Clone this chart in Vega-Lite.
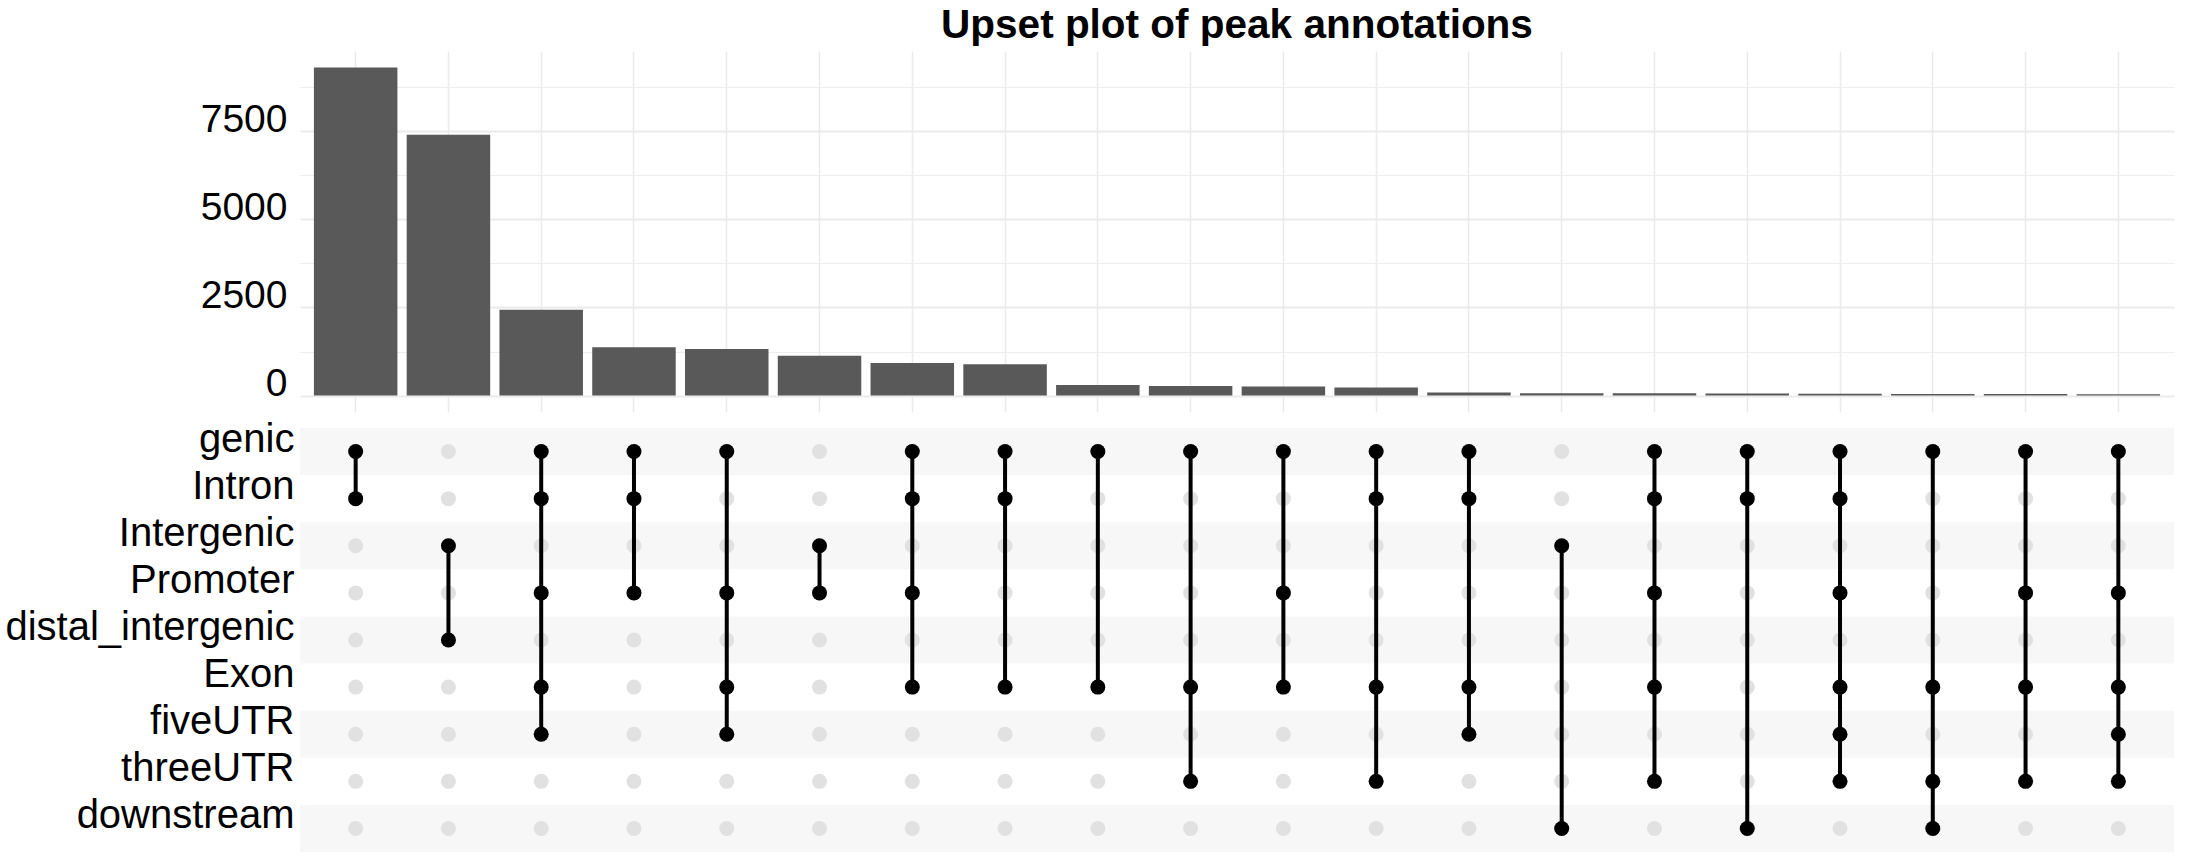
{
  "$schema": "https://vega.github.io/schema/vega-lite/v6.json",
  "background": "white",
  "padding": {"left": 4, "top": 5, "right": 5, "bottom": 5},
  "config": {
    "view": {"stroke": null},
    "font": "Liberation Sans",
    "axis": {"labelFont": "Liberation Sans"},
    "title": {"font": "Liberation Sans"}
  },
  "datasets": {
    "sets": [
      {"c":1,"count":9311,"top":"genic","bottom":"Intron","genic":1,"Intron":1,"Intergenic":0,"Promoter":0,"distal_intergenic":0,"Exon":0,"fiveUTR":0,"threeUTR":0,"downstream":0},
      {"c":2,"count":7400,"top":"Intergenic","bottom":"distal_intergenic","genic":0,"Intron":0,"Intergenic":1,"Promoter":0,"distal_intergenic":1,"Exon":0,"fiveUTR":0,"threeUTR":0,"downstream":0},
      {"c":3,"count":2432,"top":"genic","bottom":"fiveUTR","genic":1,"Intron":1,"Intergenic":0,"Promoter":1,"distal_intergenic":0,"Exon":1,"fiveUTR":1,"threeUTR":0,"downstream":0},
      {"c":4,"count":1370,"top":"genic","bottom":"Promoter","genic":1,"Intron":1,"Intergenic":0,"Promoter":1,"distal_intergenic":0,"Exon":0,"fiveUTR":0,"threeUTR":0,"downstream":0},
      {"c":5,"count":1322,"top":"genic","bottom":"fiveUTR","genic":1,"Intron":0,"Intergenic":0,"Promoter":1,"distal_intergenic":0,"Exon":1,"fiveUTR":1,"threeUTR":0,"downstream":0},
      {"c":6,"count":1132,"top":"Intergenic","bottom":"Promoter","genic":0,"Intron":0,"Intergenic":1,"Promoter":1,"distal_intergenic":0,"Exon":0,"fiveUTR":0,"threeUTR":0,"downstream":0},
      {"c":7,"count":925,"top":"genic","bottom":"Exon","genic":1,"Intron":1,"Intergenic":0,"Promoter":1,"distal_intergenic":0,"Exon":1,"fiveUTR":0,"threeUTR":0,"downstream":0},
      {"c":8,"count":888,"top":"genic","bottom":"Exon","genic":1,"Intron":1,"Intergenic":0,"Promoter":0,"distal_intergenic":0,"Exon":1,"fiveUTR":0,"threeUTR":0,"downstream":0},
      {"c":9,"count":303,"top":"genic","bottom":"Exon","genic":1,"Intron":0,"Intergenic":0,"Promoter":0,"distal_intergenic":0,"Exon":1,"fiveUTR":0,"threeUTR":0,"downstream":0},
      {"c":10,"count":275,"top":"genic","bottom":"threeUTR","genic":1,"Intron":0,"Intergenic":0,"Promoter":0,"distal_intergenic":0,"Exon":1,"fiveUTR":0,"threeUTR":1,"downstream":0},
      {"c":11,"count":255,"top":"genic","bottom":"Exon","genic":1,"Intron":0,"Intergenic":0,"Promoter":1,"distal_intergenic":0,"Exon":1,"fiveUTR":0,"threeUTR":0,"downstream":0},
      {"c":12,"count":226,"top":"genic","bottom":"threeUTR","genic":1,"Intron":1,"Intergenic":0,"Promoter":0,"distal_intergenic":0,"Exon":1,"fiveUTR":0,"threeUTR":1,"downstream":0},
      {"c":13,"count":85,"top":"genic","bottom":"fiveUTR","genic":1,"Intron":1,"Intergenic":0,"Promoter":0,"distal_intergenic":0,"Exon":1,"fiveUTR":1,"threeUTR":0,"downstream":0},
      {"c":14,"count":68,"top":"Intergenic","bottom":"downstream","genic":0,"Intron":0,"Intergenic":1,"Promoter":0,"distal_intergenic":0,"Exon":0,"fiveUTR":0,"threeUTR":0,"downstream":1},
      {"c":15,"count":66,"top":"genic","bottom":"threeUTR","genic":1,"Intron":1,"Intergenic":0,"Promoter":1,"distal_intergenic":0,"Exon":1,"fiveUTR":0,"threeUTR":1,"downstream":0},
      {"c":16,"count":60,"top":"genic","bottom":"downstream","genic":1,"Intron":1,"Intergenic":0,"Promoter":0,"distal_intergenic":0,"Exon":0,"fiveUTR":0,"threeUTR":0,"downstream":1},
      {"c":17,"count":55,"top":"genic","bottom":"threeUTR","genic":1,"Intron":1,"Intergenic":0,"Promoter":1,"distal_intergenic":0,"Exon":1,"fiveUTR":1,"threeUTR":1,"downstream":0},
      {"c":18,"count":48,"top":"genic","bottom":"downstream","genic":1,"Intron":0,"Intergenic":0,"Promoter":0,"distal_intergenic":0,"Exon":1,"fiveUTR":0,"threeUTR":1,"downstream":1},
      {"c":19,"count":43,"top":"genic","bottom":"threeUTR","genic":1,"Intron":0,"Intergenic":0,"Promoter":1,"distal_intergenic":0,"Exon":1,"fiveUTR":0,"threeUTR":1,"downstream":0},
      {"c":20,"count":38,"top":"genic","bottom":"threeUTR","genic":1,"Intron":0,"Intergenic":0,"Promoter":1,"distal_intergenic":0,"Exon":1,"fiveUTR":1,"threeUTR":1,"downstream":0}
    ],
    "shaded": [
      {"set": "genic"},
      {"set": "Intergenic"},
      {"set": "distal_intergenic"},
      {"set": "fiveUTR"},
      {"set": "downstream"}
    ]
  },
  "spacing": 7,
  "vconcat": [
    {
      "title": {"text": "Upset plot of peak annotations", "fontSize": 40.5, "fontWeight": "bold", "anchor": "middle", "frame": "group", "offset": 5, "color": "black"},
      "width": 1874,
      "height": 361,
      "data": {"name": "sets"},
      "mark": {"type": "bar", "color": "#595959"},
      "encoding": {
        "x": {
          "field": "c", "type": "ordinal",
          "scale": {"paddingInner": 0.1, "paddingOuter": 0.15},
          "axis": {"labels": false, "ticks": false, "domain": false, "title": null, "grid": true, "gridColor": "#EBEBEB", "gridWidth": 1.5}
        },
        "y": {
          "field": "count", "type": "quantitative",
          "scale": {"domain": [-466, 9777], "nice": false, "zero": false},
          "axis": {
            "values": [0, 1250, 2500, 3750, 5000, 6250, 7500, 8750],
            "format": "d",
            "labelExpr": "datum.value % 2500 === 0 ? datum.label : ''",
            "title": null, "ticks": false, "domain": false,
            "labelFontSize": 39, "labelPadding": 13, "labelBaseline": "alphabetic", "labelColor": "black",
            "grid": true, "gridColor": "#EBEBEB",
            "gridWidth": {"condition": {"test": "datum.value % 2500 === 0", "value": 1.8}, "value": 0.9}
          }
        }
      }
    },
    {
      "width": 1874,
      "height": 424,
      "layer": [
        {
          "data": {"name": "shaded"},
          "mark": {"type": "rect", "color": "#F7F7F7"},
          "encoding": {
            "y": {
              "field": "set", "type": "nominal",
              "scale": {"domain": ["genic", "Intron", "Intergenic", "Promoter", "distal_intergenic", "Exon", "fiveUTR", "threeUTR", "downstream"], "paddingInner": 0, "paddingOuter": 0},
              "axis": {"title": null, "ticks": false, "domain": false, "grid": false, "labelFontSize": 40, "labelPadding": 6, "labelBaseline": "alphabetic", "labelColor": "black", "labelLimit": 0}
            },
            "x": {"value": 0},
            "x2": {"value": "width"}
          }
        },
        {
          "data": {"name": "sets"},
          "transform": [
            {"fold": ["genic", "Intron", "Intergenic", "Promoter", "distal_intergenic", "Exon", "fiveUTR", "threeUTR", "downstream"], "as": ["set", "member"]}
          ],
          "mark": {"type": "circle", "size": 225, "color": "#E1E1E1", "opacity": 1},
          "encoding": {
            "x": {"field": "c", "type": "ordinal", "scale": {"paddingInner": 0.1, "paddingOuter": 0.15}, "axis": null},
            "y": {"field": "set", "type": "nominal"}
          }
        },
        {
          "data": {"name": "sets"},
          "mark": {"type": "rule", "color": "black", "strokeWidth": 4},
          "encoding": {
            "x": {"field": "c", "type": "ordinal"},
            "y": {"field": "top", "type": "nominal"},
            "y2": {"field": "bottom"}
          }
        },
        {
          "data": {"name": "sets"},
          "transform": [
            {"fold": ["genic", "Intron", "Intergenic", "Promoter", "distal_intergenic", "Exon", "fiveUTR", "threeUTR", "downstream"], "as": ["set", "member"]},
            {"filter": "datum.member === 1"}
          ],
          "mark": {"type": "circle", "size": 225, "color": "black", "opacity": 1},
          "encoding": {
            "x": {"field": "c", "type": "ordinal"},
            "y": {"field": "set", "type": "nominal"}
          }
        }
      ]
    }
  ]
}
